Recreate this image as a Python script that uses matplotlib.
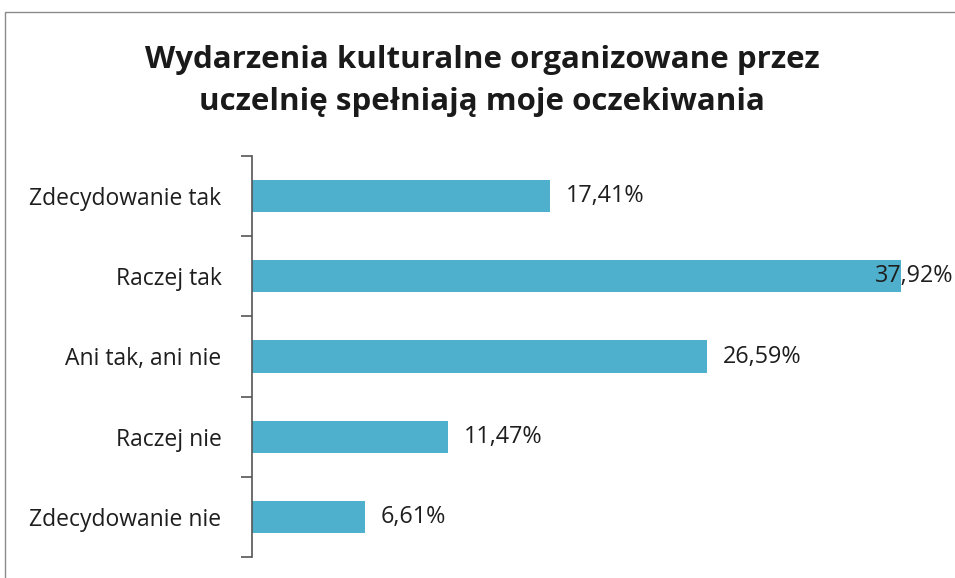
import matplotlib.pyplot as plt
from matplotlib.patches import Rectangle
import numpy as np

categories = ["Zdecydowanie tak", "Raczej tak", "Ani tak, ani nie", "Raczej nie", "Zdecydowanie nie"]
values = [17.41, 37.92, 26.59, 11.47, 6.61]
labels = ["17,41%", "37,92%", "26,59%", "11,47%", "6,61%"]
title = "Wydarzenia kulturalne organizowane przez\nuczelnię spełniają moje oczekiwania"

plt.rcParams['font.family'] = ['Open Sans', 'DejaVu Sans']

fig = plt.figure(figsize=(9.55, 5.78), dpi=100)
fig.patches.append(Rectangle((5 / 955, -0.1), 1.1, 1 - 12 / 578 + 0.1, transform=fig.transFigure,
                             fill=False, edgecolor="#8a8a8a", linewidth=1.0))

xmax = 41.06
ax = fig.add_axes([252 / 955, 1 - 557 / 578, 1 - 252 / 955, (557 - 156) / 578])
y = np.arange(len(categories))
ax.barh(y, values, height=0.4, color="#4eb0cc")
for yi, v, lab in zip(y, values, labels):
    if v + 5.5 > xmax:
        # not enough room: push the label back so it ends at the edge
        ax.text(xmax - 0.1, yi, lab, va="center", ha="right", fontsize=16.8, color="#1e1e1e")
    else:
        ax.text(v + 0.9, yi, lab, va="center", ha="left", fontsize=16.8, color="#1e1e1e")

ax.set_xlim(0, xmax)
ax.set_ylim(len(categories) - 0.5, -0.5)
ax.set_yticks(y)
ax.set_yticklabels(categories, fontsize=16.5, color="#1e1e1e")
ax.set_yticks(np.arange(-0.5, len(categories)), minor=True)
ax.tick_params(axis="y", which="major", length=0, pad=22)
ax.tick_params(axis="y", which="minor", length=8, width=1.2, color="#555555")
ax.set_xticks([])
for s in ["top", "right", "bottom"]:
    ax.spines[s].set_visible(False)
ax.spines["left"].set_color("#555555")
ax.spines["left"].set_linewidth(1.2)

fig.text(0.505, 1 - 81 / 578, title, ha="center", va="center", fontsize=22.5, fontweight="bold",
         color="#1a1a1a", linespacing=1.5)

fig.savefig("out.png", dpi=100)
